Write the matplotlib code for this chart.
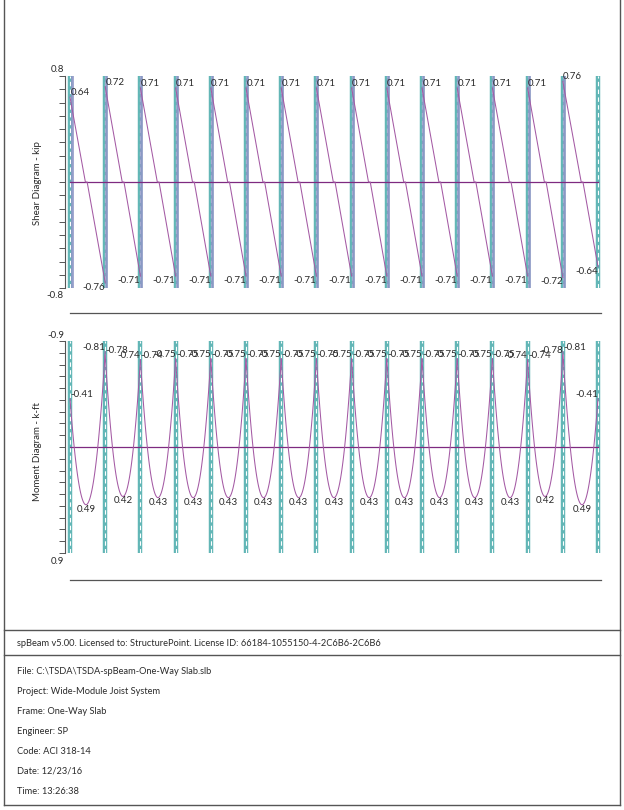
import matplotlib.pyplot as plt
import numpy as np

# values (15 spans, 16 supports)
shear_left = [0.64, 0.72] + [0.71] * 12 + [0.76]
shear_right = [-0.76] + [-0.71] * 12 + [-0.72, -0.64]

moment_left = [-0.41, -0.78, -0.74] + [-0.75] * 10 + [-0.74, -0.81]
moment_right = [-0.81, -0.74] + [-0.75] * 10 + [-0.74, -0.78, -0.41]
moment_pos = [0.49, 0.42] + [0.43] * 11 + [0.42, 0.49]

footer_top = "spBeam v5.00. Licensed to: StructurePoint. License ID: 66184-1055150-4-2C6B6-2C6B6"
footer_lines = [
    "File: C:\\TSDA\\TSDA-spBeam-One-Way Slab.slb",
    "Project: Wide-Module Joist System",
    "Frame: One-Way Slab",
    "Engineer: SP",
    "Code: ACI 318-14",
    "Date: 12/23/16",
    "Time: 13:26:38",
]

W, H = 624, 810
TEAL = '#62b6b6'
SLATE = '#8e96c6'
PURPLE = '#a45aa4'
ZERO = '#7e2a80'
GREY = '#555555'
TXT = '#2a2a2a'
FONT = 'Lato'
FS = 7.0
FS_FOOT = 6.7

plt.rcParams['font.family'] = [FONT, 'DejaVu Sans']

fig = plt.figure(figsize=(W / 100, H / 100), dpi=100)

# page layer in pixel coordinates
bg = fig.add_axes([0, 0, 1, 1])
bg.set_xlim(0, W)
bg.set_ylim(H, 0)
bg.axis('off')


def px_axes(left, top, right, bottom):
    return fig.add_axes([left / W, 1 - bottom / H, (right - left) / W, (bottom - top) / H])


n_span = len(shear_left)
x0_px, dx_px = 70, 35.2
ax_left, ax_right = 65, 602
xlim = ((ax_left - x0_px) / dx_px, (ax_right - x0_px) / dx_px)


def style_axes(ax, lim, step):
    ax.set_xlim(*xlim)
    ax.set_ylim(*lim)
    ax.patch.set_alpha(0)
    for s in ['top', 'right', 'bottom']:
        ax.spines[s].set_visible(False)
    ax.spines['left'].set_color(GREY)
    ax.spines['left'].set_linewidth(0.8)
    lo, hi = min(lim), max(lim)
    ax.set_yticks(np.arange(lo, hi + step / 2, step))
    ax.set_yticklabels([])
    ax.set_xticks([])
    ax.tick_params(axis='y', direction='out', length=4.3, width=0.7, color=GREY)


def draw_supports(ax, with_slate):
    for i in range(n_span + 1):
        ax.axvline(i, color=TEAL, lw=3.2, zorder=1)
        ax.axvline(i, color='white', lw=0.8, ls=(0, (4, 3)), zorder=1.5)
        if with_slate and i < n_span:
            off = 0.07 if i == 0 else 0.03
            ax.axvline(i + off, color=SLATE, lw=2.0, alpha=0.9, zorder=1.6)


# ---- shear diagram ----
ax_v = px_axes(ax_left, 76, ax_right, 288)
style_axes(ax_v, (-0.8, 0.8), 0.1)
draw_supports(ax_v, True)
ax_v.plot([0, n_span], [0, 0], color=ZERO, lw=0.9, zorder=2)
for i in range(n_span):
    vl, vr = shear_left[i], shear_right[i]
    s0 = vl / (vl - vr)
    ax_v.plot([i, i + s0 - 0.02, i + s0 + 0.03, i + 1], [vl, 0, 0, vr],
              color=PURPLE, lw=0.75, zorder=3)
    ax_v.text(i + 0.01, vl, f"{vl:.2f}", ha='left', va='bottom', fontsize=FS, color=TXT, zorder=4)
    ax_v.text(i + 1, vr, f"{vr:.2f}", ha='right', va='top', fontsize=FS, color=TXT, zorder=4)

# ---- moment diagram ----
ax_m = px_axes(ax_left, 341, ax_right, 553)
style_axes(ax_m, (0.9, -0.9), 0.1)
draw_supports(ax_m, False)
ax_m.plot([0, n_span], [0, 0], color=ZERO, lw=0.9, zorder=2)
s = np.linspace(0, 1, 121)
for i in range(n_span):
    a, b, p = moment_left[i], moment_right[i] - moment_left[i], moment_pos[i]
    # parabola through both end moments with the read midspan maximum
    m0 = max(np.roots([16, 8 * b - 16 * (p - a), b * b]).real)
    s_max = (b + 4 * m0) / (8 * m0)
    ax_m.plot(i + s, a + b * s + 4 * m0 * s * (1 - s), color=PURPLE, lw=0.75, zorder=3)
    ax_m.text(i + 0.01, a, f"{a:.2f}", ha='left', va='bottom', fontsize=FS, color=TXT, zorder=4)
    ax_m.text(i + 1, moment_right[i], f"{moment_right[i]:.2f}", ha='right', va='bottom',
              fontsize=FS, color=TXT, zorder=4)
    ax_m.text(i + s_max, p, f"{p:.2f}", ha='center', va='top', fontsize=FS, color=TXT, zorder=4)

# axis labels and end ticks
bg.text(64, 70, "0.8", ha='right', va='center', fontsize=FS, color=TXT)
bg.text(64, 295, "-0.8", ha='right', va='center', fontsize=FS, color=TXT)
bg.text(64, 336, "-0.9", ha='right', va='center', fontsize=FS, color=TXT)
bg.text(64, 561, "0.9", ha='right', va='center', fontsize=FS, color=TXT)
bg.text(38, 183, "Shear Diagram - kip", rotation=90, ha='center', va='center', fontsize=FS, color=TXT)
bg.text(38, 452, "Moment Diagram - k-ft", rotation=90, ha='center', va='center', fontsize=FS, color=TXT)

# rules under diagrams
bg.plot([70, 601], [313, 313], color=GREY, lw=0.9)
bg.plot([70, 601], [580, 580], color=GREY, lw=0.9)

# page frame
bg.plot([4, 4], [0, 805], color=GREY, lw=1.0)
bg.plot([620, 620], [0, 805], color=GREY, lw=1.0)
bg.plot([4, 620], [805, 805], color=GREY, lw=1.0)
bg.plot([4, 620], [630, 630], color=GREY, lw=1.0)
bg.plot([4, 620], [655, 655], color=GREY, lw=1.0)

bg.text(17, 643, footer_top, ha='left', va='center', fontsize=FS_FOOT, color=TXT)
for k, line in enumerate(footer_lines):
    bg.text(17, 671 + 20 * k, line, ha='left', va='center', fontsize=FS_FOOT, color=TXT)

fig.savefig('out.png', dpi=100)
